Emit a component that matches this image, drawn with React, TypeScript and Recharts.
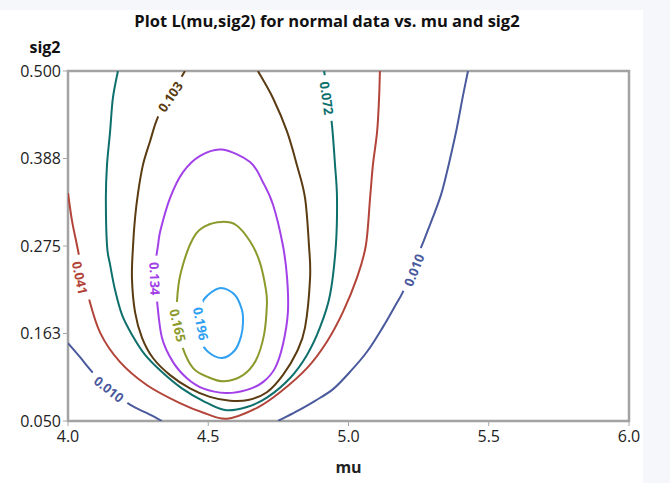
import React from "react";
import { ScatterChart, Scatter, XAxis, YAxis, ReferenceArea, Curve } from "recharts";

// ---- axis ticks ----
const muTicks = [4.0, 4.5, 5.0, 5.5, 6.0];
const sig2Ticks = [0.05, 0.1625, 0.275, 0.3875, 0.5];
const sig2TickLabels = ["0.050", "0.163", "0.275", "0.388", "0.500"];

// ---- contour lines: [mu, sig2] ----
const c010Left: [number, number][] = [
  [4.0, 0.15], [4.043, 0.132], [4.089, 0.112], [4.15, 0.09], [4.221, 0.071], [4.282, 0.06], [4.335, 0.05],
];
const c010Right: [number, number][] = [
  [4.749, 0.05], [4.813, 0.062], [4.881, 0.076], [4.945, 0.091], [5.005, 0.113], [5.066, 0.139],
  [5.123, 0.171], [5.166, 0.198], [5.194, 0.216], [5.23, 0.247], [5.262, 0.276], [5.301, 0.312],
  [5.33, 0.341], [5.351, 0.37], [5.369, 0.398], [5.387, 0.428], [5.408, 0.468], [5.426, 0.5],
];
const c041: [number, number][] = [
  [4.0, 0.343], [4.014, 0.308], [4.032, 0.276], [4.05, 0.244], [4.071, 0.212], [4.114, 0.164],
  [4.185, 0.126], [4.282, 0.096], [4.399, 0.073], [4.488, 0.06], [4.567, 0.053], [4.674, 0.067],
  [4.756, 0.087], [4.852, 0.118], [4.923, 0.152], [4.98, 0.19], [5.03, 0.234], [5.062, 0.276],
  [5.077, 0.337], [5.087, 0.379], [5.102, 0.422], [5.109, 0.465], [5.112, 0.5],
];
const c072: [number, number][] = [
  [4.178, 0.5], [4.16, 0.465], [4.15, 0.422], [4.139, 0.379], [4.135, 0.337], [4.139, 0.276],
  [4.15, 0.251], [4.168, 0.218], [4.193, 0.186], [4.228, 0.161], [4.275, 0.135], [4.335, 0.113],
  [4.406, 0.092], [4.481, 0.076], [4.56, 0.064], [4.638, 0.068], [4.709, 0.08], [4.791, 0.105],
  [4.852, 0.135], [4.898, 0.17], [4.934, 0.212], [4.955, 0.276], [4.959, 0.337], [4.952, 0.379],
  [4.941, 0.431], [4.927, 0.469], [4.913, 0.5],
];
const c103: [number, number][] = [
  [4.417, 0.5], [4.371, 0.472], [4.321, 0.441], [4.292, 0.409], [4.267, 0.379], [4.25, 0.344],
  [4.239, 0.311], [4.232, 0.276], [4.228, 0.234], [4.239, 0.19], [4.264, 0.157], [4.303, 0.131],
  [4.364, 0.109], [4.435, 0.092], [4.506, 0.081], [4.578, 0.076], [4.642, 0.077], [4.709, 0.087],
  [4.766, 0.109], [4.816, 0.139], [4.845, 0.17], [4.863, 0.234], [4.859, 0.276], [4.845, 0.337],
  [4.816, 0.379], [4.781, 0.422], [4.731, 0.465], [4.677, 0.5],
];
// closed loops (last point joins back to the first)
const c134: [number, number][] = [
  [4.31, 0.244], [4.321, 0.276], [4.33, 0.296], [4.364, 0.337], [4.41, 0.37], [4.471, 0.391],
  [4.549, 0.399], [4.649, 0.383], [4.695, 0.357], [4.731, 0.328], [4.766, 0.276], [4.781, 0.234],
  [4.784, 0.19], [4.766, 0.148], [4.738, 0.118], [4.695, 0.1], [4.638, 0.09], [4.563, 0.086],
  [4.481, 0.092], [4.424, 0.105], [4.374, 0.126], [4.335, 0.157], [4.317, 0.206],
];
const c165: [number, number][] = [
  [4.392, 0.173], [4.389, 0.206], [4.403, 0.242], [4.446, 0.285], [4.492, 0.301], [4.549, 0.306],
  [4.599, 0.302], [4.649, 0.281], [4.684, 0.254], [4.706, 0.218], [4.709, 0.199], [4.699, 0.161],
  [4.67, 0.128], [4.624, 0.109], [4.556, 0.101], [4.496, 0.107], [4.446, 0.118], [4.41, 0.143],
];
const c196: [number, number][] = [
  [4.467, 0.177], [4.474, 0.199], [4.499, 0.212], [4.545, 0.221], [4.595, 0.212], [4.62, 0.193],
  [4.624, 0.177], [4.617, 0.159], [4.595, 0.141], [4.549, 0.131], [4.499, 0.139], [4.474, 0.154],
];

// ---- contour labels: text and anchor on the line [mu, sig2] ----
const labelTexts = ["0.010", "0.010", "0.041", "0.072", "0.103", "0.134", "0.165", "0.196"];
const labelAnchors: [number, number][] = [
  [4.146, 0.091], [5.233, 0.244], [4.043, 0.234], [4.923, 0.465],
  [4.364, 0.467], [4.31, 0.233], [4.392, 0.173], [4.474, 0.175],
];

// ---- styles ----
const colors: Record<string, string> = {
  "0.010": "#4a5a9d",
  "0.041": "#b3443a",
  "0.072": "#0e706c",
  "0.103": "#5a3b12",
  "0.134": "#a241e8",
  "0.165": "#8c9a2c",
  "0.196": "#30a1f2",
};
const labelAngles = [38, -68, 78, 82, -56, 88, 77, 79];

const series: { level: string; pts: [number, number][]; closed: boolean }[] = [
  { level: "0.010", pts: c010Left, closed: false },
  { level: "0.010", pts: c010Right, closed: false },
  { level: "0.041", pts: c041, closed: false },
  { level: "0.072", pts: c072, closed: false },
  { level: "0.103", pts: c103, closed: false },
  { level: "0.134", pts: c134, closed: true },
  { level: "0.165", pts: c165, closed: true },
  { level: "0.196", pts: c196, closed: true },
];

const labelData = labelTexts.map((t, i) => ({
  mu: labelAnchors[i][0],
  sig2: labelAnchors[i][1],
  text: t,
  angle: labelAngles[i],
}));

const FONT = "'Open Sans', 'Noto Sans', sans-serif";

// Catmull-Rom curve factory (open or closed) for smooth contour lines
const makeCurve = (closed: boolean) => (context: any) => {
  let pts: [number, number][] = [];
  return {
    areaStart() {},
    areaEnd() {},
    lineStart() {
      pts = [];
    },
    point(x: number, y: number) {
      pts.push([+x, +y]);
    },
    lineEnd() {
      const n = pts.length;
      if (n === 0) return;
      const get = (i: number) => (closed ? pts[(i + n) % n] : pts[Math.max(0, Math.min(n - 1, i))]);
      context.moveTo(pts[0][0], pts[0][1]);
      const segs = closed ? n : n - 1;
      for (let i = 0; i < segs; i++) {
        const p0 = get(i - 1);
        const p1 = get(i);
        const p2 = get(i + 1);
        const p3 = get(i + 2);
        context.bezierCurveTo(
          p1[0] + (p2[0] - p0[0]) / 6,
          p1[1] + (p2[1] - p0[1]) / 6,
          p2[0] - (p3[0] - p1[0]) / 6,
          p2[1] - (p3[1] - p1[1]) / 6,
          p2[0],
          p2[1]
        );
      }
      if (closed) context.closePath();
    },
  };
};
const openCurve = makeCurve(false);
const closedCurve = makeCurve(true);

const NoDot = () => <g />;

const LabelShape = (props: any) => {
  const { cx, cy, payload } = props;
  if (cx == null || cy == null) return <g />;
  const col = colors[payload.text];
  return (
    <g transform={`translate(${cx},${cy}) rotate(${payload.angle})`}>
      <rect x={-23} y={-6} width={46} height={12} fill="#ffffff" />
      <text
        x={0}
        y={0}
        textAnchor="middle"
        dominantBaseline="central"
        fontSize={13}
        fontWeight={700}
        fontFamily={FONT}
        fill={col}
      >
        {payload.text}
      </text>
    </g>
  );
};

export default function App() {
  return (
    <div style={{ position: "fixed", left: 0, top: 0, width: 670, height: 483, background: "#f6f7fb" }}>
      <div style={{ position: "absolute", left: 0, top: 10, width: 643, height: 473, background: "#ffffff" }} />
      <div style={{ position: "absolute", left: 0, top: 0 }}>
        <ScatterChart width={670} height={483} margin={{ top: 71, right: 41, bottom: 0, left: 0 }}>
          <XAxis
            type="number"
            dataKey="mu"
            domain={[4, 6]}
            ticks={muTicks}
            allowDataOverflow
            height={62}
            axisLine={false}
            tickLine={{ stroke: "#a6a6a6", strokeWidth: 1 }}
            tickSize={5}
            tickMargin={5}
            tickFormatter={(v: number) => v.toFixed(1)}
            tick={{ fill: "#222", fontSize: 16, fontFamily: FONT }}
            label={{ value: "mu", position: "insideBottom", offset: 10, fill: "#222", fontSize: 16, fontWeight: 700, fontFamily: FONT }}
          />
          <YAxis
            type="number"
            dataKey="sig2"
            domain={[0.05, 0.5]}
            ticks={sig2Ticks}
            allowDataOverflow
            width={68}
            axisLine={false}
            tickLine={{ stroke: "#a6a6a6", strokeWidth: 1 }}
            tickSize={5}
            tickMargin={2}
            tickFormatter={(v: number) => sig2TickLabels[sig2Ticks.indexOf(v)] ?? String(v)}
            tick={{ fill: "#222", fontSize: 16, fontFamily: FONT }}
          />
          <ReferenceArea x1={4} x2={6} y1={0.05} y2={0.5} fill="none" stroke="#a3a3a3" strokeWidth={2.5} ifOverflow="visible" />
          {series.map((s, i) => (
            <Scatter
              key={i}
              data={s.pts.map(([mu, sig2]) => ({ mu, sig2 }))}
              fill={colors[s.level]}
              line={(lp: any) => (
                <Curve
                  points={lp.points}
                  type={s.closed ? closedCurve : openCurve}
                  stroke={colors[s.level]}
                  strokeWidth={2}
                  fill="none"
                />
              )}
              shape={<NoDot />}
              isAnimationActive={false}
            />
          ))}
          <Scatter data={labelData} fill="#000" shape={<LabelShape />} isAnimationActive={false} />
          <text x={327} y={20} textAnchor="middle" dominantBaseline="central" fontSize={16.5} fontWeight={700} fontFamily={FONT} fill="#111">
            Plot L(mu,sig2) for normal data vs. mu and sig2
          </text>
          <text x={45} y={47} textAnchor="middle" dominantBaseline="central" fontSize={16} fontWeight={700} fontFamily={FONT} fill="#111">
            sig2
          </text>
        </ScatterChart>
      </div>
    </div>
  );
}
